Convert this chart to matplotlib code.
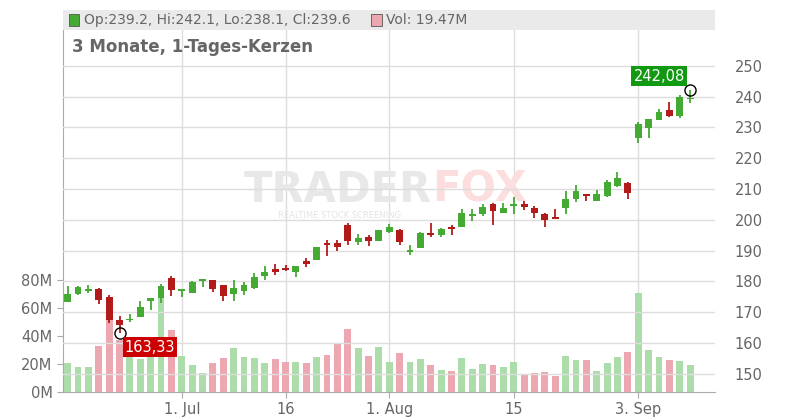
import matplotlib
matplotlib.use("Agg")
import matplotlib.pyplot as plt
import numpy as np

opens = [173.4,176.0,176.9,177.6,174.9,167.4,167.3,168.5,173.5,174.7,181.1,176.7,176.3,180.0,180.4,178.7,176.0,176.7,177.9,181.8,
         184.0,184.3,183.1,186.6,187.0,192.6,192.5,198.3,192.9,194.4,193.2,196.1,196.7,189.6,190.9,195.7,195.1,197.8,197.8,201.3,
         201.9,205.1,202.3,204.6,205.2,203.8,201.9,201.0,203.9,206.9,208.4,206.2,207.8,211.0,212.0,226.5,229.9,232.5,235.7,233.9,239.2]
highs = [178.5,178.5,178.7,177.9,175.5,168.7,169.4,173.6,174.7,179.1,181.7,177.4,180.0,180.8,180.4,178.7,180.4,179.8,182.7,185.0,
         185.6,185.3,185.0,187.6,191.3,193.4,193.3,199.1,195.4,195.0,196.8,198.6,196.9,191.8,196.0,199.1,197.2,198.4,203.5,203.5,
         205.0,205.6,205.4,207.5,206.2,204.5,202.3,203.5,209.5,211.3,208.4,209.7,212.9,215.5,212.3,231.8,232.8,236.0,238.3,240.6,242.08]
lows = [173.4,175.7,176.1,172.7,166.3,163.33,166.8,168.5,170.8,172.8,175.3,174.8,176.1,178.3,176.6,173.7,173.7,175.5,177.6,180.4,
        182.0,183.4,181.5,184.8,187.0,188.3,190.0,191.9,191.9,191.6,193.0,195.6,191.8,188.6,190.9,194.5,194.5,195.2,197.8,199.7,
        201.3,198.4,202.3,202.0,203.3,200.7,197.5,200.4,202.0,205.9,206.2,206.2,207.5,210.7,206.9,225.1,226.7,232.3,233.5,233.2,238.1]
closes = [175.9,178.2,177.6,174.0,167.5,165.9,167.5,171.7,174.7,178.5,177.3,177.4,179.8,180.8,177.6,175.1,177.8,178.7,181.4,183.0,
          183.1,183.7,185.0,185.7,191.0,191.8,191.3,193.2,194.0,193.2,196.6,197.8,192.9,190.1,195.8,195.1,197.0,197.1,202.2,201.9,
          204.2,203.0,203.8,205.2,204.2,202.3,200.0,200.4,206.8,209.4,207.8,208.4,212.3,213.6,208.8,231.1,232.8,235.0,233.9,239.9,239.6]
volumes = [20.9,17.9,17.9,32.9,51.7,37.1,30.0,23.6,26.0,67.4,44.3,25.7,19.3,13.6,20.7,24.3,31.4,25.0,24.3,20.7,
           23.6,21.4,21.4,20.7,25.0,26.4,34.3,45.0,31.4,25.7,32.1,21.4,27.9,21.4,23.6,19.3,15.7,15.0,24.3,16.4,
           20.0,19.3,17.9,21.4,12.9,13.6,14.3,11.4,25.7,22.9,22.9,15.0,20.7,25.0,28.6,70.7,30.0,25.0,22.9,22.1,19.47]
date_ticks = [11, 21, 31, 43, 55]
date_labels = ["1. Jul", "16", "1. Aug", "15", "3. Sep"]
price_ticks = [150, 160, 170, 180, 190, 200, 210, 220, 230, 240, 250]
vol_ticks = [0, 20, 40, 60, 80]

GREEN, RED = "#44aa33", "#b31b1b"
VG, VR = "#acdcaa", "#eda7b0"
TXT = "#666666"

fig = plt.figure(figsize=(8, 4.2), dpi=100)
L, R, B, T = 63/800, 715/800, 28/420, 390/420
axv = fig.add_axes([L, B, R-L, T-B])
axp = axv.twinx()
n = len(opens)
x = np.arange(n)
up = [c >= o for o, c in zip(opens, closes)]

axv.bar(x, volumes, width=0.66, color=[VG if u else VR for u in up], zorder=2)
axv.set_ylim(0, 258.6)
axv.set_xlim(-0.45, n - 1 + 2.4)

for i in range(n):
    col = GREEN if up[i] else RED
    axp.vlines(x[i], lows[i], highs[i], color=col, lw=1.3, zorder=3)
    lo, hi = min(opens[i], closes[i]), max(opens[i], closes[i])
    axp.bar(x[i], max(hi - lo, 0.35), bottom=lo, width=0.66, color=col, zorder=4)
axp.set_ylim(144.0, 261.7)

for ax in (axv, axp):
    for s in ax.spines.values():
        s.set_visible(False)
axv.spines["left"].set_visible(True)
axv.spines["bottom"].set_visible(True)
axv.spines["left"].set_color("#aaaaaa")
axv.spines["bottom"].set_color("#aaaaaa")

axp.set_yticks(price_ticks)
axp.set_yticklabels([str(t) for t in price_ticks], color=TXT, fontsize=10.5)
axp.tick_params(axis="y", length=0, pad=14)
axp.grid(axis="y", color="#dddddd", lw=1, zorder=0)
axv.set_yticks(vol_ticks)
axv.set_yticklabels([f"{t}M" for t in vol_ticks], color=TXT, fontsize=10.5)
axv.tick_params(axis="y", length=4, color="#aaaaaa")
axv.set_xticks(date_ticks)
axv.set_xticklabels(date_labels, color=TXT, fontsize=10.5)
axv.tick_params(axis="x", length=4, color="#aaaaaa")
axv.grid(axis="x", color="#dddddd", lw=1, zorder=0)
axv.set_axisbelow(True)
axp.set_zorder(axv.get_zorder() + 1)
axp.patch.set_visible(False)

# watermark
fig.text(432/800, 1 - 190/420, "TRADER", fontsize=30, fontweight="bold", color="#e8e8e8", ha="right", va="center", zorder=0)
fig.text(432/800, 1 - 190/420, "FOX", fontsize=30, fontweight="bold", color="#fcdede", ha="left", va="center", zorder=0)
fig.text(340/800, 1 - 216/420, "REALTIME STOCK SCREENING", fontsize=6, color="#e4e4e4", ha="center", va="center")

# markers
ilo = int(np.argmin(lows)); ihi = n - 1
axp.plot([ilo], [lows[ilo]], marker="o", mfc="none", mec="black", ms=8, zorder=6)
axp.plot([ihi], [highs[ihi]], marker="o", mfc="none", mec="black", ms=8, zorder=6)
axp.text(ilo + 0.5, lows[ilo] - 2.3, f"{lows[ilo]:.2f}".replace(".", ","), color="white", fontsize=10.5,
         va="top", ha="left", bbox=dict(boxstyle="square,pad=0.15", fc="#cc0000", ec="none"), zorder=7)
axp.text(ihi - 0.5, highs[ihi] + 2.2, f"{highs[ihi]:.2f}".replace(".", ","), color="white", fontsize=10.5,
         va="bottom", ha="right", bbox=dict(boxstyle="square,pad=0.15", fc="#119911", ec="none"), zorder=7)

# header
hdr = fig.add_axes([L, (420-30)/420, R-L, 20/420])
hdr.set_xlim(0, 1); hdr.set_ylim(0, 1); hdr.axis("off")
hdr.add_patch(plt.Rectangle((0, 0), 1, 1, color="#eaeaea"))
hdr.add_patch(plt.Rectangle((0.009, 0.22), 0.016, 0.56, fc=GREEN, ec="#555555", lw=0.6))
hdr.text(0.032, 0.5, f"Op:{opens[-1]}, Hi:{highs[-1]:.1f}, Lo:{lows[-1]}, Cl:{closes[-1]}", color=TXT, fontsize=10, va="center")
hdr.add_patch(plt.Rectangle((0.473, 0.22), 0.016, 0.56, fc=VR, ec="#555555", lw=0.6))
hdr.text(0.496, 0.5, f"Vol: {volumes[-1]}M", color=TXT, fontsize=10, va="center")
fig.text(72/800, 1 - 47/420, "3 Monate, 1-Tages-Kerzen", color=TXT, fontsize=12, fontweight="bold", va="center")

fig.savefig("out.png", dpi=100)
